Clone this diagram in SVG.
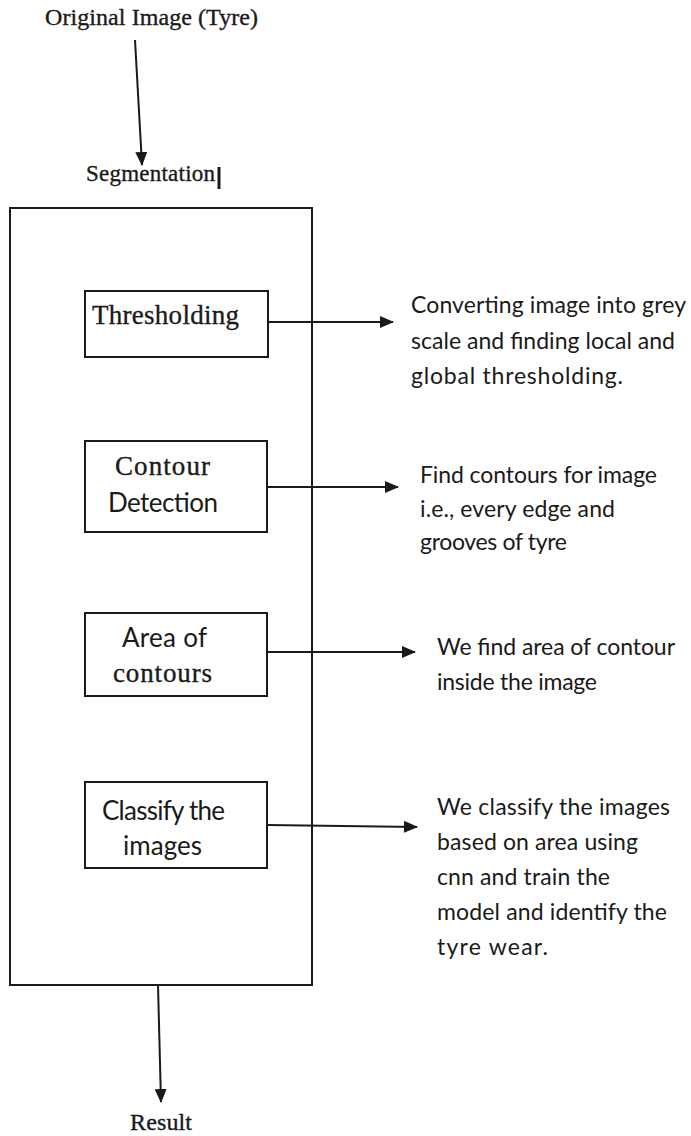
<svg xmlns="http://www.w3.org/2000/svg" width="691" height="1136" viewBox="0 0 691 1136">
  <style>
    .serif { font-family: "Liberation Serif", "Times New Roman", serif; fill: #1a1a1a; stroke: #1a1a1a; stroke-width: 0.35; }
    .sans { font-family: Lato, "Liberation Sans", sans-serif; fill: #1a1a1a; }
    .box { fill: #ffffff; stroke: #1a1a1a; stroke-width: 2; }
    .edge { fill: none; stroke: #1a1a1a; stroke-width: 2; }
  </style>
  <defs>
    <marker id="arrow" markerUnits="userSpaceOnUse" markerWidth="14" markerHeight="12" refX="13" refY="6" orient="auto">
      <path d="M0,0 L14,6 L0,12 Z" fill="#1a1a1a"/>
    </marker>
  </defs>
  <rect width="691" height="1136" fill="#ffffff"/>

  <!-- input label -->
  <g id="original">
    <text class="serif" x="45" y="25" font-size="24" textLength="213">Original Image (Tyre)</text>
  </g>

  <!-- segmentation stage: label, caret bar and enclosing frame -->
  <g id="segmentation">
    <text class="serif" x="86" y="181" font-size="23" textLength="129">Segmentation</text>
    <line x1="219" y1="167" x2="219" y2="189" stroke="#1a1a1a" stroke-width="3"/>
    <rect class="box" x="10" y="208" width="302" height="777"/>
  </g>

  <g id="thresholding">
    <rect class="box" x="85" y="291" width="183" height="66"/>
    <text class="serif" x="92" y="324" font-size="27" textLength="147">Thresholding</text>
  </g>

  <g id="contour-detection">
    <rect class="box" x="85" y="441" width="182" height="91"/>
    <text class="serif" x="115" y="475" font-size="27" textLength="95">Contour</text>
    <text class="sans" x="108" y="512" font-size="26" textLength="110">Detection</text>
  </g>

  <g id="area-of-contours">
    <rect class="box" x="85" y="613" width="182" height="83"/>
    <text class="sans" x="122" y="647" font-size="26" textLength="85">Area of</text>
    <text class="serif" x="113" y="682" font-size="27" textLength="99">contours</text>
  </g>

  <g id="classify">
    <rect class="box" x="85" y="782" width="182" height="86"/>
    <text class="sans" x="102" y="820" font-size="26" textLength="123">Classify the</text>
    <text class="sans" x="123" y="855" font-size="26" textLength="79">images</text>
  </g>

  <!-- descriptions -->
  <g id="desc-thresholding" class="sans" font-size="23">
    <text x="411" y="313" textLength="275">Converting image into grey</text>
    <text x="411" y="349" textLength="264">scale and finding local and</text>
    <text x="411" y="384" textLength="212">global thresholding.</text>
  </g>

  <g id="desc-contour" class="sans" font-size="23">
    <text x="420" y="483" textLength="237">Find contours for image</text>
    <text x="420" y="517" textLength="195">i.e., every edge and</text>
    <text x="420" y="550" textLength="147">grooves of tyre</text>
  </g>

  <g id="desc-area" class="sans" font-size="23">
    <text x="437" y="655" textLength="238">We find area of contour</text>
    <text x="437" y="690" textLength="160">inside the image</text>
  </g>

  <g id="desc-classify" class="sans" font-size="23">
    <text x="437" y="815" textLength="233">We classify the images</text>
    <text x="437" y="850" textLength="201">based on area using</text>
    <text x="437" y="885" textLength="173">cnn and train the</text>
    <text x="437" y="920" textLength="230">model and identify the</text>
    <text x="437" y="955" textLength="111">tyre wear.</text>
  </g>

  <g id="result">
    <text class="serif" x="130" y="1130" font-size="24" textLength="62">Result</text>
  </g>

  <!-- connectors -->
  <g id="connectors">
    <line class="edge" x1="135" y1="40" x2="142" y2="165" marker-end="url(#arrow)"/>
    <line class="edge" x1="268" y1="322" x2="393" y2="322" marker-end="url(#arrow)"/>
    <line class="edge" x1="267" y1="487" x2="398" y2="487" marker-end="url(#arrow)"/>
    <line class="edge" x1="267" y1="652" x2="415" y2="652" marker-end="url(#arrow)"/>
    <line class="edge" x1="267" y1="825" x2="417" y2="827" marker-end="url(#arrow)"/>
    <line class="edge" x1="158" y1="985" x2="161" y2="1102" marker-end="url(#arrow)"/>
  </g>
</svg>
